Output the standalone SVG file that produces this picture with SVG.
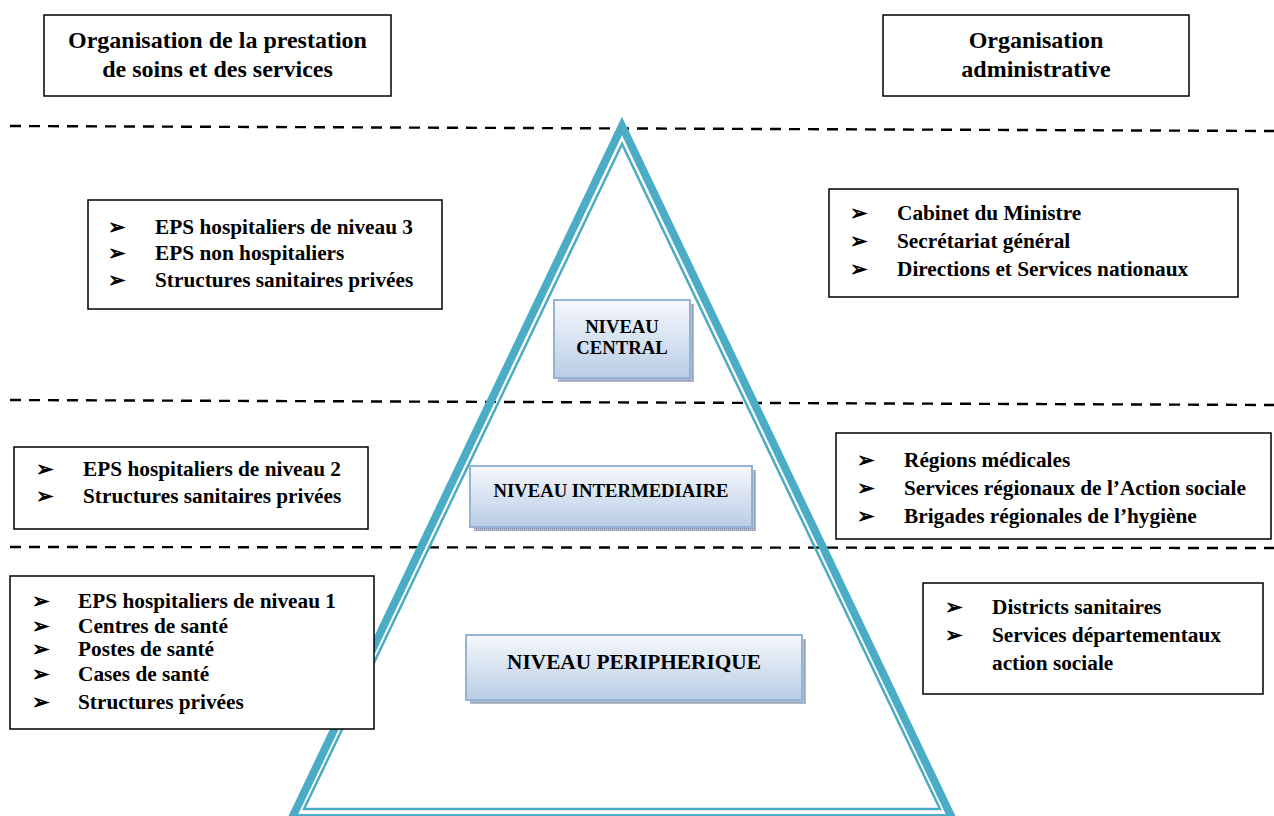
<svg xmlns="http://www.w3.org/2000/svg" width="1274" height="816" viewBox="0 0 1274 816">
<defs>
<linearGradient id="lvl" x1="0" y1="0" x2="0" y2="1">
<stop offset="0" stop-color="#f6f8fc"/>
<stop offset="1" stop-color="#b9cde5"/>
</linearGradient>
<pattern id="shd" width="2" height="2" patternUnits="userSpaceOnUse">
<rect width="2" height="2" fill="#b3bccb"/>
<rect width="1" height="1" fill="#7f8ea6"/>
</pattern>
<style>
text{font-family:'Liberation Serif','Times New Roman',Times,serif;font-weight:700;fill:#000}
.h{font-size:24px}
.b{font-size:21.3px}
.box{fill:#fff;stroke:#000;stroke-width:1.5}
.dash{stroke:#000;stroke-width:2.4;stroke-dasharray:11 8;fill:none}
.lv{fill:url(#lvl);stroke:#95b3d7;stroke-width:2}
.sh{fill:url(#shd)}
</style>
</defs>
<rect width="1274" height="816" fill="#fff"/>
<g id="separators">
<line class="dash" x1="10" y1="126" x2="1274" y2="131"/>
<line class="dash" x1="10" y1="400" x2="1274" y2="405"/>
<line class="dash" x1="10" y1="547" x2="1274" y2="548"/>
</g>
<g id="pyramid">
<polygon points="622,126 292,818 952,818" fill="none" stroke="#4bacc6" stroke-width="8" stroke-linejoin="miter"/>
<polygon points="622,144 304,809 940,809" fill="none" stroke="#4bacc6" stroke-width="2.5" stroke-linejoin="miter"/>
</g>
<g id="header-left">
<rect class="box" x="44" y="15" width="347" height="81"/>
<text class="h" x="217.5" y="48" text-anchor="middle">Organisation de la prestation</text>
<text class="h" x="217.5" y="77" text-anchor="middle">de soins et des services</text>
</g>
<g id="header-right">
<rect class="box" x="883" y="15" width="306" height="81"/>
<text class="h" x="1036" y="48" text-anchor="middle">Organisation</text>
<text class="h" x="1036" y="77" text-anchor="middle">administrative</text>
</g>
<g id="central-left">
<rect class="box" x="88" y="200" width="354" height="109"/>
<text class="b" x="108" y="234">➢</text><text class="b" x="155" y="234">EPS hospitaliers de niveau 3</text>
<text class="b" x="108" y="260">➢</text><text class="b" x="155" y="260">EPS non hospitaliers</text>
<text class="b" x="108" y="287">➢</text><text class="b" x="155" y="287">Structures sanitaires privées</text>
</g>
<g id="central-right">
<rect class="box" x="829" y="189" width="409" height="108"/>
<text class="b" x="850" y="220">➢</text><text class="b" x="897" y="220">Cabinet du Ministre</text>
<text class="b" x="850" y="248">➢</text><text class="b" x="897" y="248">Secrétariat général</text>
<text class="b" x="850" y="276">➢</text><text class="b" x="897" y="276">Directions et Services nationaux</text>
</g>
<g id="intermediate-left">
<rect class="box" x="14" y="447" width="354" height="82"/>
<text class="b" x="36" y="476">➢</text><text class="b" x="83" y="476">EPS hospitaliers de niveau 2</text>
<text class="b" x="36" y="503">➢</text><text class="b" x="83" y="503">Structures sanitaires privées</text>
</g>
<g id="intermediate-right">
<rect class="box" x="836" y="433" width="435" height="106"/>
<text class="b" x="857" y="467">➢</text><text class="b" x="904" y="467">Régions médicales</text>
<text class="b" x="857" y="495">➢</text><text class="b" x="904" y="495">Services régionaux de l’Action sociale</text>
<text class="b" x="857" y="523">➢</text><text class="b" x="904" y="523">Brigades régionales de l’hygiène</text>
</g>
<g id="peripheral-left">
<rect class="box" x="10" y="576" width="364" height="153"/>
<text class="b" x="32" y="608">➢</text><text class="b" x="78" y="608">EPS hospitaliers de niveau 1</text>
<text class="b" x="32" y="633">➢</text><text class="b" x="78" y="633">Centres de santé</text>
<text class="b" x="32" y="656">➢</text><text class="b" x="78" y="656">Postes de santé</text>
<text class="b" x="32" y="681">➢</text><text class="b" x="78" y="681">Cases de santé</text>
<text class="b" x="32" y="709">➢</text><text class="b" x="78" y="709">Structures privées</text>
</g>
<g id="peripheral-right">
<rect class="box" x="923" y="583" width="340" height="111"/>
<text class="b" x="945" y="614">➢</text><text class="b" x="992" y="614">Districts sanitaires</text>
<text class="b" x="945" y="642">➢</text><text class="b" x="992" y="642">Services départementaux</text>
<text class="b" x="992" y="670">action sociale</text>
</g>
<g id="niveau-central">
<rect class="sh" x="558" y="304" width="136" height="78"/>
<rect class="lv" x="554" y="300" width="136" height="78"/>
<text x="622" y="333" text-anchor="middle" font-size="18.7">NIVEAU</text>
<text x="622" y="354" text-anchor="middle" font-size="18.7">CENTRAL</text>
</g>
<g id="niveau-intermediaire">
<rect class="sh" x="474" y="470" width="282" height="61"/>
<rect class="lv" x="470" y="466" width="282" height="61"/>
<text x="611" y="497" text-anchor="middle" font-size="18.7">NIVEAU INTERMEDIAIRE</text>
</g>
<g id="niveau-peripherique">
<rect class="sh" x="470" y="639" width="336" height="65"/>
<rect class="lv" x="466" y="635" width="336" height="65"/>
<text x="634" y="669" text-anchor="middle" font-size="21.3">NIVEAU PERIPHERIQUE</text>
</g>
</svg>
